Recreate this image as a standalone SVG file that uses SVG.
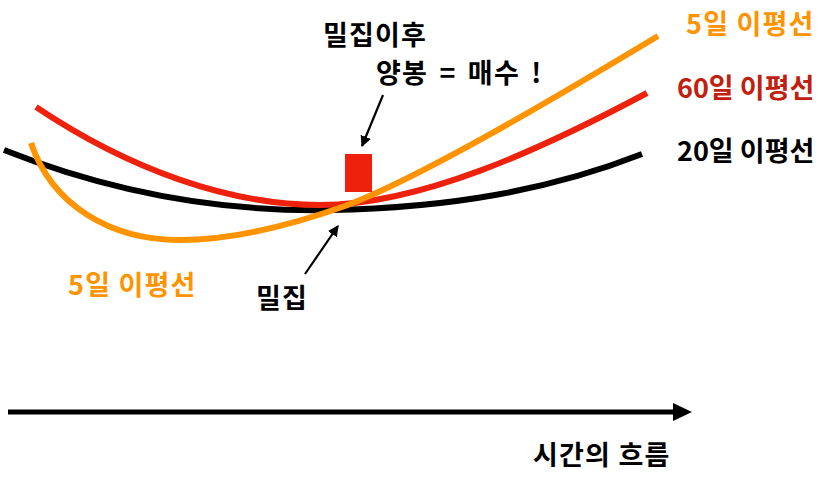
<svg xmlns="http://www.w3.org/2000/svg" width="828" height="479" viewBox="0 0 828 479">
<style>
text{font-family:"Noto Sans CJK KR","Noto Sans",sans-serif;font-weight:bold;font-size:27px;letter-spacing:1.2px}
.tight{letter-spacing:0}
.ma{fill:none;stroke-width:6;stroke-linecap:butt}
.ptr{fill:none;stroke:#000;stroke-width:2.2}
</style>
<defs>
<marker id="ah" viewBox="0 0 10 10" refX="9" refY="5" markerWidth="5" markerHeight="5" orient="auto" markerUnits="strokeWidth">
<path d="M0,0 L10,5 L0,10 z" fill="#000"/>
</marker>
</defs>
<rect width="828" height="479" fill="#fff"/>
<g id="connectors">
<path id="ma20" class="ma" stroke="#000" d="M4,150 C110,192 220,212 330,210 C450,208 550,190 642,154"/>
<path id="ma60" class="ma" stroke="#EE220C" d="M36,107 C130,170 230,205 320,205 C420,205 540,150 647,93"/>
<path id="ma5" class="ma" stroke="#FF9300" d="M31,143 C52,205 110,240 180,240 C240,240 300,222 345,206 C420,178 560,95 658,36"/>
<path class="ptr" d="M383,95 L362,146" marker-end="url(#ah)"/>
<path class="ptr" d="M305,274 L338,226" marker-end="url(#ah)"/>
<line x1="8" y1="412" x2="675" y2="412" stroke="#000" stroke-width="5"/>
<path d="M673,403 L692,412 L673,421 z" fill="#000"/>
</g>
<g id="candle"><rect x="345" y="154" width="27" height="38" fill="#EE220C"/></g>
<g id="label-after"><text x="323" y="45">밀집이후</text><text x="376" y="83" style="word-spacing:4px">양봉 = 매수 !</text></g>
<g id="label-dense"><text x="256" y="308">밀집</text></g>
<g id="label-ma5-left"><text x="68" y="295" fill="#FF9300">5일 이평선</text></g>
<g id="label-ma5"><text x="686" y="34" fill="#FF9300">5일 이평선</text></g>
<g id="label-ma60"><text class="tight" x="677" y="98" fill="#C0200D">60일 이평선</text></g>
<g id="label-ma20"><text class="tight" x="677" y="161" fill="#000">20일 이평선</text></g>
<g id="label-time"><text x="533" y="465">시간의 흐름</text></g>
</svg>
